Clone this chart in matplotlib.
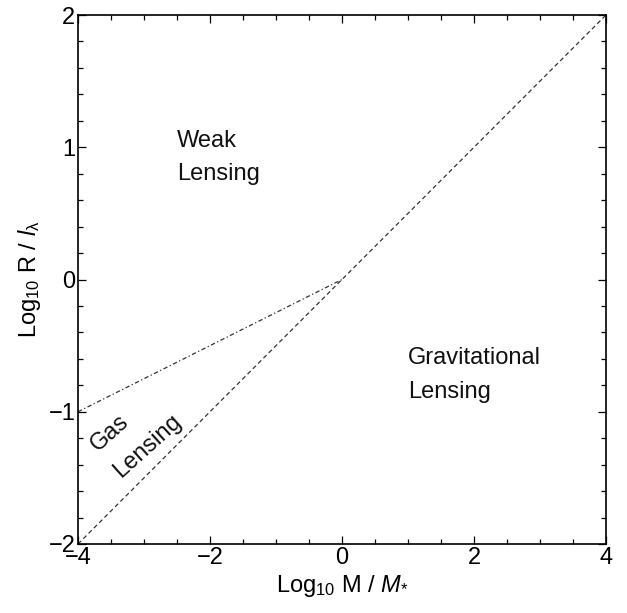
import matplotlib
matplotlib.use("Agg")
import matplotlib.pyplot as plt
from matplotlib.ticker import MultipleLocator, FuncFormatter

plt.rcParams['font.family'] = ['Liberation Sans', 'DejaVu Sans']
plt.rcParams['mathtext.fontset'] = 'custom'
plt.rcParams['mathtext.rm'] = 'Liberation Sans'
plt.rcParams['mathtext.it'] = 'Liberation Sans:italic'
plt.rcParams['mathtext.default'] = 'rm'

# Boundary lines between lensing regimes (log10 M/M*, log10 R/l_lambda)
grav_x = [-4, 4]
grav_y = [-2, 2]
gas_x = [-4, 0]
gas_y = [-1, 0]

# Region labels: (x, y, text, rotation)
region_labels = [
    (-2.5, 1.05, "Weak", 0),
    (-2.5, 0.80, "Lensing", 0),
    (1.0, -0.59, "Gravitational", 0),
    (1.0, -0.85, "Lensing", 0),
    (-3.52, -1.16, "Gas", 42),
    (-2.94, -1.26, "Lensing", 42),
]

FS = 17

fig = plt.figure(figsize=(6.27, 6.13), dpi=100)
ax = fig.add_axes([78 / 627, 1 - 544 / 613, 528 / 627, 529 / 613])

line_color = '#333333'
ax.plot(grav_x, grav_y, color=line_color, lw=0.9, dashes=(3.5, 2.5))
ax.plot(gas_x, gas_y, color=line_color, lw=0.9, dashes=(3.5, 2.0, 1.0, 2.0))

for x, y, s, rot in region_labels:
    if rot == 0:
        ax.text(x, y, s, fontsize=FS, ha='left', va='center', color='#111111')
    else:
        ax.text(x, y, s, fontsize=FS, ha='center', va='center', rotation=rot,
                rotation_mode='anchor', color='#111111')

ax.set_xlim(-4, 4)
ax.set_ylim(-2, 2)
ax.xaxis.set_major_locator(MultipleLocator(2))
ax.xaxis.set_minor_locator(MultipleLocator(0.5))
ax.yaxis.set_major_locator(MultipleLocator(1))
ax.yaxis.set_minor_locator(MultipleLocator(0.2))
ax.tick_params(which='both', direction='in', top=True, right=True, width=0.9)
ax.tick_params(which='major', length=6, labelsize=FS, pad=2)
ax.tick_params(which='minor', length=3.5)
minus_fmt = FuncFormatter(lambda v, p: f"{v:.0f}".replace('-', '\u2212'))
ax.xaxis.set_major_formatter(minus_fmt)
ax.yaxis.set_major_formatter(minus_fmt)
for sp in ax.spines.values():
    sp.set_linewidth(1.2)

ax.set_xlabel(r"Log$_{10}$ M / $\mathit{M}_{*}$", fontsize=FS, labelpad=3)
ax.set_ylabel(r"Log$_{10}$ R / $\mathit{l}_{\lambda}$", fontsize=FS, labelpad=4)

fig.savefig("out.png", dpi=100)
